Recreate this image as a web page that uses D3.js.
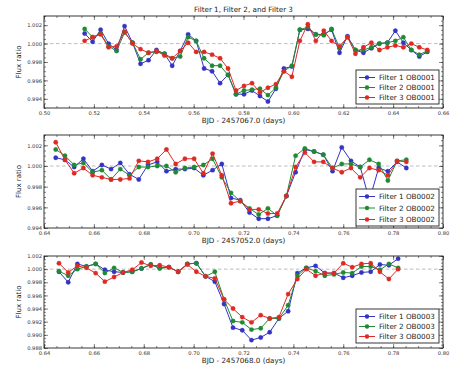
<!DOCTYPE html>
<html><head><meta charset="utf-8">
<script src="https://cdn.jsdelivr.net/npm/d3@7"></script>
<style>
html,body{margin:0;padding:0;background:#fff;}
svg{display:block;font-family:"DejaVu Sans",sans-serif;}
</style></head><body>
<script>
// ---------- DATA ----------
const chartTitle = "Filter 1, Filter 2, and Filter 3";
const yLabel = "Flux ratio";
const seriesNames = ["Filter 1", "Filter 2", "Filter 3"];

// Panel 1 (OB0001)
const p1Label = "BJD - 2457067.0 (days)";
const p1Obs = "OB0001";
const p1Time = [0.5163,0.5195,0.5227,0.5259,0.5291,0.5323,0.5355,0.5387,0.5419,0.5451,0.5483,0.5514,0.5546,0.5578,0.5610,0.5642,0.5674,0.5706,0.5738,0.5770,0.5802,0.5834,0.5866,0.5898,0.5930,0.5962,0.5994,0.6026,0.6058,0.6090,0.6122,0.6153,0.6185,0.6217,0.6249,0.6281,0.6313,0.6345,0.6377,0.6409,0.6441,0.6473,0.6505,0.6537];
const p1F1 = [1.0011,1.0002,1.0015,1.0000,0.9993,1.0019,1.0001,0.9978,0.9982,0.9993,0.9989,0.9976,0.9992,1.0010,1.0003,0.9973,0.9970,0.9957,0.9966,0.9945,0.9945,0.9949,0.9943,0.9937,0.9951,0.9973,0.9975,1.0015,1.0016,1.0010,1.0010,1.0015,0.9990,1.0008,0.9993,0.9990,0.9995,1.0000,1.0001,1.0014,1.0001,0.9993,0.9986,0.9991];
const p1F2 = [1.0016,1.0007,1.0011,0.9997,0.9992,1.0012,1.0001,0.9983,0.9990,0.9991,0.9989,0.9984,0.9986,1.0007,1.0003,0.9984,0.9976,0.9976,0.9966,0.9945,0.9949,0.9950,0.9951,0.9944,0.9952,0.9970,0.9976,1.0015,1.0018,1.0010,1.0009,1.0016,0.9995,1.0007,0.9993,0.9993,0.9996,1.0000,1.0001,1.0003,1.0007,0.9993,0.9988,0.9992];
const p1F3 = [1.0003,1.0007,1.0010,0.9996,0.9997,1.0013,1.0000,0.9994,0.9990,0.9992,0.9987,0.9984,0.9992,1.0001,0.9991,0.9991,0.9988,0.9984,0.9973,0.9949,0.9954,0.9957,0.9947,0.9952,0.9956,0.9970,0.9964,1.0003,1.0021,1.0003,1.0014,1.0003,0.9997,1.0007,0.9989,0.9996,1.0001,0.9993,0.9996,0.9998,0.9996,1.0000,0.9996,0.9993];
const p1XTicks = [0.50,0.52,0.54,0.56,0.58,0.60,0.62,0.64,0.66];
const p1YTicks = [0.994,0.996,0.998,1.000,1.002];
const p1YDomain = [0.993,1.003];

// Panel 2 (OB0002)
const p2Label = "BJD - 2457052.0 (days)";
const p2Obs = "OB0002";
const p2Time = [0.6447,0.6484,0.6521,0.6558,0.6595,0.6632,0.6669,0.6706,0.6743,0.6780,0.6817,0.6854,0.6891,0.6928,0.6965,0.7002,0.7039,0.7076,0.7113,0.7150,0.7187,0.7224,0.7261,0.7298,0.7335,0.7372,0.7409,0.7446,0.7483,0.7520,0.7557,0.7594,0.7631,0.7668,0.7705,0.7742,0.7779,0.7816,0.7853];
const p2F1 = [1.0008,1.0006,0.9999,1.0007,0.9995,1.0001,0.9997,1.0003,0.9992,0.9987,1.0001,1.0004,0.9995,0.9997,0.9997,0.9998,0.9991,0.9996,1.0002,0.9969,0.9967,0.9955,0.9949,0.9949,0.9952,0.9971,0.9994,1.0016,1.0014,1.0011,0.9995,1.0018,1.0005,0.9999,0.9967,0.9998,0.9995,1.0004,0.9998];
const p2F2 = [1.0016,1.0010,1.0001,1.0003,0.9994,0.9996,0.9987,0.9997,0.9991,0.9999,0.9999,1.0000,1.0000,0.9994,0.9998,0.9999,1.0001,1.0007,0.9989,0.9974,0.9966,0.9959,0.9953,0.9959,0.9952,0.9971,1.0010,1.0017,1.0014,1.0011,0.9998,1.0002,1.0002,0.9999,1.0006,1.0002,0.9986,1.0005,1.0006];
const p2F3 = [1.0023,1.0006,0.9993,0.9998,0.9991,0.9989,0.9987,0.9987,0.9988,1.0005,1.0004,1.0007,1.0016,1.0002,1.0007,1.0007,0.9993,1.0012,0.9991,0.9964,0.9966,0.9958,0.9958,0.9954,0.9954,0.9971,0.9999,1.0013,1.0004,1.0004,0.9998,0.9994,0.9998,0.9989,0.9998,0.9996,0.9991,1.0005,1.0004];
const p2XTicks = [0.64,0.66,0.68,0.70,0.72,0.74,0.76,0.78,0.80];
const p2YTicks = [0.994,0.996,0.998,1.000,1.002];
const p2YDomain = [0.994,1.003];

// Panel 3 (OB0003)
const p3Label = "BJD - 2457068.0 (days)";
const p3Obs = "OB0003";
const p3Time = [0.6460,0.6497,0.6534,0.6570,0.6607,0.6644,0.6681,0.6717,0.6754,0.6791,0.6828,0.6864,0.6901,0.6938,0.6975,0.7011,0.7048,0.7085,0.7122,0.7158,0.7195,0.7232,0.7269,0.7305,0.7342,0.7379,0.7416,0.7452,0.7489,0.7526,0.7563,0.7600,0.7636,0.7673,0.7710,0.7747,0.7783,0.7820];
const p3F1 = [0.9996,0.9980,1.0008,1.0004,1.0008,0.9999,0.9996,0.9995,0.9996,1.0001,1.0007,1.0002,1.0003,0.9996,1.0008,1.0009,0.9989,0.9981,0.9947,0.9911,0.9907,0.9892,0.9896,0.9904,0.9925,0.9936,0.9994,1.0002,1.0005,0.9994,0.9994,0.9987,0.9990,0.9995,0.9996,1.0007,1.0006,1.0016];
const p3F2 = [0.9997,0.9990,1.0000,1.0004,1.0008,0.9994,1.0002,0.9995,0.9996,1.0001,1.0007,1.0001,1.0003,0.9996,1.0008,1.0009,0.9989,0.9996,0.9954,0.9921,0.9919,0.9908,0.9910,0.9925,0.9925,0.9945,0.9990,1.0002,0.9997,0.9990,0.9992,0.9995,0.9994,1.0004,1.0004,0.9999,1.0008,1.0002];
const p3F3 = [1.0009,0.9995,1.0005,1.0002,0.9994,0.9981,0.9988,0.9995,0.9999,1.0010,1.0005,1.0006,1.0003,0.9996,1.0007,0.9996,0.9989,0.9986,0.9954,0.9940,0.9927,0.9919,0.9930,0.9925,0.9927,0.9962,0.9985,1.0000,0.9990,0.9994,0.9994,1.0009,1.0003,1.0008,1.0009,0.9996,0.9985,1.0000];
const p3XTicks = [0.64,0.66,0.68,0.70,0.72,0.74,0.76,0.78,0.80];
const p3YTicks = [0.988,0.990,0.992,0.994,0.996,0.998,1.000,1.002];
const p3YDomain = [0.988,1.002];

// ---------- STYLE / LAYOUT ----------
const W = 453, H = 372;
const colors = ["#3434c4", "#1f8a32", "#de2a24"];
const plotLeft = 44, plotRight = 443;
const panels = [
  {time:p1Time, series:[p1F1,p1F2,p1F3], xTicks:p1XTicks, yTicks:p1YTicks, yDomain:p1YDomain, xLabel:p1Label, obs:p1Obs, top:16, bottom:108, legTop:70, legH:34},
  {time:p2Time, series:[p2F1,p2F2,p2F3], xTicks:p2XTicks, yTicks:p2YTicks, yDomain:p2YDomain, xLabel:p2Label, obs:p2Obs, top:135, bottom:228, legTop:189, legH:37},
  {time:p3Time, series:[p3F1,p3F2,p3F3], xTicks:p3XTicks, yTicks:p3YTicks, yDomain:p3YDomain, xLabel:p3Label, obs:p3Obs, top:256, bottom:348, legTop:309, legH:34}
];

const svg = d3.select("body").append("svg").attr("width", W).attr("height", H);

svg.append("text").attr("x", (plotLeft+plotRight)/2).attr("y", 12)
  .attr("text-anchor","middle").attr("font-size", 7.2).attr("fill","#222").text(chartTitle);

const fmt3 = d3.format(".3f"), fmt2 = d3.format(".2f");

panels.forEach(p => {
  const x = d3.scaleLinear().domain([p.xTicks[0], p.xTicks[p.xTicks.length-1]]).range([plotLeft, plotRight]);
  const y = d3.scaleLinear().domain(p.yDomain).range([p.bottom, p.top]);
  const g = svg.append("g");

  // dashed reference line at 1.000
  g.append("line").attr("x1", plotLeft).attr("x2", plotRight).attr("y1", y(1)).attr("y2", y(1))
    .attr("stroke", "#bdbdbd").attr("stroke-width", 1).attr("stroke-dasharray", "3.5,2.5");

  // minor ticks
  const xMinor = d3.range(p.xTicks[0], p.xTicks[p.xTicks.length-1] + 1e-9, 0.005);
  const yMinor = d3.range(Math.ceil(p.yDomain[0]/0.0005)*0.0005, p.yDomain[1] + 1e-9, 0.0005);
  const styleAxis = sel => { sel.select(".domain").remove(); sel.selectAll("line").attr("stroke","#333").attr("stroke-width",0.6); sel.selectAll("text").attr("fill","#333").attr("font-family","DejaVu Sans"); };

  g.append("g").attr("transform",`translate(0,${p.bottom})`).call(d3.axisBottom(x).tickValues(xMinor).tickSize(-2).tickFormat("")).call(styleAxis);
  g.append("g").attr("transform",`translate(0,${p.top})`).call(d3.axisTop(x).tickValues(xMinor).tickSize(-2).tickFormat("")).call(styleAxis);
  g.append("g").attr("transform",`translate(${plotLeft},0)`).call(d3.axisLeft(y).tickValues(yMinor).tickSize(-2).tickFormat("")).call(styleAxis);
  g.append("g").attr("transform",`translate(${plotRight},0)`).call(d3.axisRight(y).tickValues(yMinor).tickSize(-2).tickFormat("")).call(styleAxis);

  // major ticks
  g.append("g").attr("transform",`translate(0,${p.bottom})`)
    .call(d3.axisBottom(x).tickValues(p.xTicks).tickSize(-4).tickPadding(3).tickFormat(fmt2))
    .call(styleAxis).selectAll("text").attr("font-size", 5.2);
  g.append("g").attr("transform",`translate(0,${p.top})`)
    .call(d3.axisTop(x).tickValues(p.xTicks).tickSize(-4).tickFormat("")).call(styleAxis);
  g.append("g").attr("transform",`translate(${plotLeft},0)`)
    .call(d3.axisLeft(y).tickValues(p.yTicks).tickSize(-4).tickPadding(2).tickFormat(fmt3))
    .call(styleAxis).selectAll("text").attr("font-size", 5.2);
  g.append("g").attr("transform",`translate(${plotRight},0)`)
    .call(d3.axisRight(y).tickValues(p.yTicks).tickSize(-4).tickFormat("")).call(styleAxis);

  // series
  const line = d3.line().x((d,i)=>x(p.time[i])).y(d=>y(d));
  p.series.forEach((s, k) => {
    g.append("path").datum(s).attr("d", line).attr("fill","none")
      .attr("stroke", colors[k]).attr("stroke-width", 1);
    g.selectAll(null).data(s).enter().append("circle")
      .attr("cx",(d,i)=>x(p.time[i])).attr("cy",d=>y(d)).attr("r",2.2)
      .attr("fill", colors[k]).attr("stroke", colors[k]).attr("stroke-width",0.3);
  });

  // frame
  g.append("rect").attr("x",plotLeft).attr("y",p.top).attr("width",plotRight-plotLeft).attr("height",p.bottom-p.top)
    .attr("fill","none").attr("stroke","#222").attr("stroke-width",0.9);

  // axis labels
  g.append("text").attr("x",(plotLeft+plotRight)/2).attr("y",p.bottom+15)
    .attr("text-anchor","middle").attr("font-size",7.2).attr("fill","#222").text(p.xLabel);
  g.append("text").attr("transform",`translate(21,${(p.top+p.bottom)/2}) rotate(-90)`)
    .attr("text-anchor","middle").attr("font-size",7).attr("fill","#222").text(yLabel);

  // legend
  const lx = 356, lw = 83;
  const leg = g.append("g");
  leg.append("rect").attr("x",lx).attr("y",p.legTop).attr("width",lw).attr("height",p.legH)
    .attr("fill","#fff").attr("stroke","#222").attr("stroke-width",0.9);
  seriesNames.forEach((name,k) => {
    const ry = p.legTop + 7 + k*(p.legH-14)/2 + 0.5;
    leg.append("line").attr("x1",lx+3).attr("x2",lx+19).attr("y1",ry).attr("y2",ry)
      .attr("stroke",colors[k]).attr("stroke-width",1);
    leg.append("circle").attr("cx",lx+11).attr("cy",ry).attr("r",2.2).attr("fill",colors[k]);
    leg.append("text").attr("x",lx+23).attr("y",ry+2.5).attr("font-size",7.2).attr("fill","#222")
      .text(`${name} ${p.obs}`);
  });
});
</script>
</body></html>
